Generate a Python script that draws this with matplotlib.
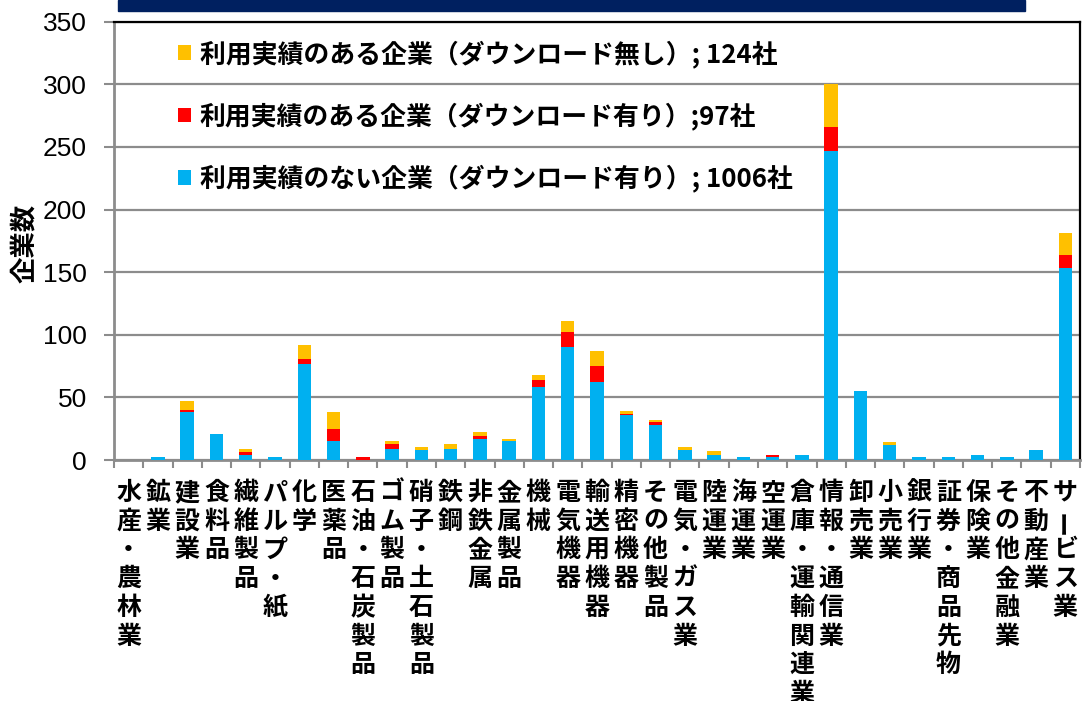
import matplotlib
matplotlib.use("Agg")
import matplotlib.pyplot as plt
import matplotlib.transforms as mtransforms
from matplotlib.patches import Rectangle
import numpy as np

plt.rcParams['font.family'] = ['Noto Sans CJK JP', 'DejaVu Sans']

# Industry categories (業種)
industries = ['水産・農林業', '鉱業', '建設業', '食料品', '繊維製品', 'パルプ・紙', '化学',
              '医薬品', '石油・石炭製品', 'ゴム製品', '硝子・土石製品', '鉄鋼', '非鉄金属',
              '金属製品', '機械', '電気機器', '輸送用機器', '精密機器', 'その他製品',
              '電気・ガス業', '陸運業', '海運業', '空運業', '倉庫・運輸関連業', '情報・通信業',
              '卸売業', '小売業', '銀行業', '証券・商品先物', '保険業', 'その他金融業',
              '不動産業', 'サービス業']

# companies without usage record (downloaded)
no_use_dl = [0, 2, 38, 21, 4, 2, 77, 15, 0, 9, 8, 9, 17, 15, 58, 90, 62, 36, 28,
             8, 4, 2, 2, 4, 247, 55, 12, 2, 2, 4, 2, 8, 153]
# companies with usage record (downloaded)
use_dl = [0, 0, 2, 0, 2, 0, 4, 10, 2, 4, 0, 0, 2, 0, 6, 12, 13, 1, 2,
          0, 0, 0, 2, 0, 19, 0, 0, 0, 0, 0, 0, 0, 11]
# companies with usage record (no download)
use_no_dl = [0, 0, 7, 0, 3, 0, 11, 13, 0, 2, 2, 4, 3, 2, 4, 9, 12, 2, 2,
             2, 3, 0, 0, 0, 34, 0, 2, 0, 0, 0, 0, 0, 17]

legend_labels = ['利用実績のある企業（ダウンロード無し）; 124社',
                 '利用実績のある企業（ダウンロード有り）;97社',
                 '利用実績のない企業（ダウンロード有り）; 1006社']

W, H = 1082, 701
fig = plt.figure(figsize=(W / 100, H / 100), dpi=100)
ax = fig.add_axes([114 / W, 1 - 460 / H, 966 / W, 438.3 / H])

x = np.arange(len(industries))
blue = np.array(no_use_dl)
red = np.array(use_dl)
yellow = np.array(use_no_dl)

b1 = ax.bar(x, blue, width=0.46, color='#00B0F0', zorder=3)
b2 = ax.bar(x, red, width=0.46, bottom=blue, color='#FF0000', zorder=3)
b3 = ax.bar(x, yellow, width=0.46, bottom=blue + red, color='#FFC000', zorder=3)

ax.set_xlim(-0.5, len(industries) - 0.5)
ax.set_ylim(0, 350)
ax.set_yticks(np.arange(0, 351, 50))
ax.yaxis.grid(True, color='#8C8C8C', linewidth=1.6)
ax.set_axisbelow(True)

for side in ['left', 'bottom']:
    ax.spines[side].set_color('#8C8C8C')
    ax.spines[side].set_linewidth(2)
for side in ['top', 'right']:
    ax.spines[side].set_color('black')
    ax.spines[side].set_linewidth(1.6)

# tick marks sit on the category boundaries
ax.set_xticks(np.arange(-0.5, len(industries), 1))
ax.set_xticklabels([])
ax.tick_params(axis='x', length=5.5, width=1.5, color='#8C8C8C', direction='out')
ax.tick_params(axis='y', length=7.5, width=1.5, color='#8C8C8C', pad=12, labelsize=19)
for lab in ax.get_yticklabels():
    lab.set_fontfamily('Liberation Sans')

# vertical (tategaki) category labels, one character per row
trans = mtransforms.blended_transform_factory(ax.transData, fig.transFigure)
for i, name in enumerate(industries):
    for j, ch in enumerate(name):
        rot = 90 if ch == 'ー' else 0
        ax.text(i, 1 - (493 + j * 28.7) / H, ch, transform=trans, ha='center', va='center',
                fontsize=18, fontweight='bold', rotation=rot, clip_on=False)

fig.text(24 / W, 1 - 243 / H, '企業数', rotation=90, fontsize=19, fontweight='bold',
         ha='center', va='center')

# header band
fig.patches.append(Rectangle((118 / W, 1 - 11 / H), (1025 - 118) / W, 11 / H,
                             transform=fig.transFigure, color='#002060', zorder=5))

ax.legend(handles=[b3, b2, b1], labels=legend_labels, loc='upper left',
          bbox_to_anchor=(178 / W, 1 - 40 / H), bbox_transform=fig.transFigure,
          frameon=False, prop={'size': 18.6, 'weight': 'bold'},
          handlelength=0.5, handleheight=0.5, handletextpad=0.35,
          labelspacing=1.33, borderpad=0, borderaxespad=0)

fig.savefig('out.png', dpi=100)
